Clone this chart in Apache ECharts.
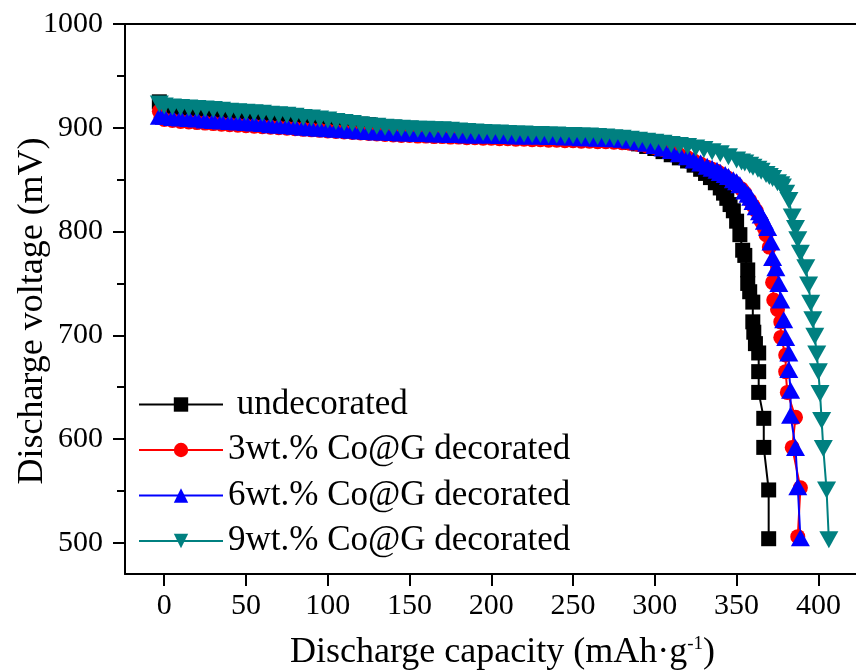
<!DOCTYPE html>
<html>
<head>
<meta charset="utf-8">
<script src="https://cdn.jsdelivr.net/npm/echarts@6/dist/echarts.min.js"></script>
<style>
  html, body { margin: 0; padding: 0; background: #fff; }
  #chart { width: 856px; height: 671px; }
</style>
</head>
<body>
<div id="chart"></div>
<script>
// 数据：放电容量 (mAh/g) 与电压 (mV)
const undecoratedCap = [-3, 0, 5, 10, 15, 20, 25, 30, 35, 40, 45, 50, 55, 60, 65, 70, 75, 80, 85, 90, 95, 100, 105, 110, 115, 120, 125, 130, 135, 140, 145, 150, 155, 160, 165, 170, 175, 180, 185, 190, 195, 200, 205, 210, 215, 220, 225, 230, 235, 240, 245, 250, 255, 260, 265, 270, 275, 280, 285, 290, 295, 300, 305, 310, 315, 320, 324, 328, 331, 334, 337, 340, 342, 344, 346, 348, 350, 352, 353.7, 355, 356.8, 356.8, 358, 359.9, 359.9, 360.5, 361.5, 363.5, 363.5, 363.5, 366.6, 366.6, 369.6, 369.6];
const undecoratedV = [925, 921, 919, 918, 917.5, 917, 916.5, 916, 915.5, 915, 914.5, 914, 913.5, 913, 912.5, 912, 911, 910.5, 910, 909, 908, 907, 906, 905, 904, 903.5, 903, 902, 901, 900.5, 900, 899.5, 899, 898.5, 898, 897, 896.5, 896, 895.5, 895.5, 895, 895, 894.5, 894.5, 894, 894, 893.5, 893.5, 893, 893, 892.5, 892, 891.5, 891, 890, 889.5, 888.5, 887.5, 886, 884.5, 882, 880, 877, 874, 871, 868, 864, 860, 856, 852, 847, 842, 837, 832, 826, 820, 810, 797, 782, 777, 763, 750, 742, 732, 713, 703, 692, 683, 665, 645, 620, 592, 551, 504];

const co3Cap = [-3, -2, 0, 5, 10, 15, 20, 25, 30, 35, 40, 45, 50, 55, 60, 65, 70, 75, 80, 85, 90, 95, 100, 105, 110, 115, 120, 125, 130, 135, 140, 145, 150, 155, 160, 165, 170, 175, 180, 185, 190, 195, 200, 205, 210, 215, 220, 225, 230, 235, 240, 245, 250, 255, 260, 265, 270, 275, 280, 285, 290, 295, 300, 305, 310, 315, 320, 324, 328, 332, 335, 338, 340, 343, 345, 348, 350, 353, 355, 358, 360, 362, 365, 367, 368, 370, 372, 372.7, 375, 377, 377, 380, 380, 381, 386, 384, 389, 387.4];
const co3V = [916, 910, 908, 907, 906, 905.5, 905, 904.5, 904, 903.5, 903, 902.5, 902, 901.5, 901, 900.5, 900, 899.5, 899, 898.5, 898, 897.5, 897, 896.5, 896, 895.5, 895, 894.5, 894, 893.5, 893, 892.5, 892.5, 892, 892, 891.5, 891.5, 891, 891, 890.5, 890.5, 890, 890, 889.5, 889.5, 889, 889, 888.5, 888.5, 888, 888, 887.5, 887.5, 887, 887, 886.5, 886.5, 886, 885.5, 885, 884, 882.5, 881, 879, 877, 874, 871, 868, 865, 862, 860, 858, 856, 853, 851, 848, 845, 841, 837, 830, 825, 820, 810, 803, 797, 785, 751, 734, 725, 713, 698, 681, 665, 645, 621, 592, 553, 506];

const co6Cap = [-3, 0, 5, 10, 15, 20, 25, 30, 35, 40, 45, 50, 55, 60, 65, 70, 75, 80, 85, 90, 95, 100, 105, 110, 115, 120, 125, 130, 135, 140, 145, 150, 155, 160, 165, 170, 175, 180, 185, 190, 195, 200, 205, 210, 215, 220, 225, 230, 235, 240, 245, 250, 255, 260, 265, 270, 275, 280, 285, 290, 295, 300, 305, 310, 315, 320, 324, 328, 332, 335, 338, 340, 343, 345, 348, 350, 352, 355, 357, 358.6, 360, 362, 364, 365, 367, 369, 371, 372, 374, 375.8, 377, 378.8, 380, 381.9, 381.9, 383, 383, 386, 387.4, 389];
const co6V = [911, 911, 910, 909.5, 909, 908.5, 907.5, 907, 906.5, 906, 905.5, 905, 904.5, 904, 903, 902.5, 902, 901.5, 900.5, 900, 899.5, 899, 898.5, 898, 897.5, 897, 896.5, 896, 896, 895.5, 895, 895, 894.5, 894.5, 894, 894, 893.5, 893.5, 893, 893, 893, 893, 892.5, 892.5, 892, 892, 892, 892, 891.5, 891.5, 891, 891, 890.5, 890.5, 890, 890, 889.5, 889, 888, 886.5, 885, 883, 880.5, 878, 875, 872, 869, 866, 863, 861, 859, 857, 855, 853, 850, 848, 845, 839, 836, 833, 829, 824, 819, 816, 810, 804, 790, 775, 765, 750, 734, 715, 698, 683, 667, 647, 623, 592, 554, 505];

const co9Cap = [-3, 0, 5, 10, 15, 20, 25, 30, 35, 40, 45, 50, 55, 60, 65, 70, 75, 80, 85, 90, 95, 100, 105, 110, 115, 120, 125, 130, 135, 140, 145, 150, 155, 160, 165, 170, 175, 180, 185, 190, 195, 200, 205, 210, 215, 220, 225, 230, 235, 240, 245, 250, 255, 260, 265, 270, 275, 280, 285, 290, 295, 300, 305, 310, 315, 320, 325, 330, 335, 340, 345, 350, 353, 355, 358, 360, 363, 365, 368, 370, 372, 375, 377, 378, 380, 382, 384, 386, 387.4, 389, 392.3, 394, 395.3, 396.6, 397.8, 399, 400, 401, 402, 403, 405, 406.4];
const co9V = [923, 921, 920, 919.5, 919, 918.5, 918, 917.5, 917, 916, 915.5, 915, 914.5, 914, 913, 912.5, 912, 911, 910, 909.5, 908.5, 907.5, 906, 905, 904, 903, 902, 901.5, 900.5, 900, 899.5, 899, 898.5, 898.5, 898, 898, 897.5, 897, 896.5, 896, 895.5, 895, 895, 894.5, 894, 894, 893.5, 893.5, 893, 893, 892.5, 892.5, 892, 892, 891.5, 891, 890.5, 890, 889, 888, 887, 886, 885, 884, 883, 882, 880.5, 879, 877, 875, 872, 869, 867, 866, 864, 862, 860, 858, 855, 853, 851, 847, 845, 843, 837, 830, 814, 803, 792, 779, 765, 748.5, 731, 715, 699, 682, 665, 644, 618, 591, 551, 503];

const xTicks = [0, 50, 100, 150, 200, 250, 300, 350, 400];
const yTicks = [500, 600, 700, 800, 900, 1000];
const yMinorTicks = [550, 650, 750, 850, 950];

function pairs(xs, ys) {
    return xs.map((x, i) => [x, ys[i]]);
}

const FONT = 'Liberation Serif, "Times New Roman", serif';

const myChart = echarts.init(document.getElementById('chart'), null, { renderer: 'canvas' });

const axisLineStyle = { color: '#000', width: 2 };

const option = {
    animation: false,
    backgroundColor: '#fff',
    grid: {
        left: 125,
        right: 0,
        top: 24,
        bottom: 97,
        containLabel: false,
        outerBoundsMode: 'none'
    },
    legend: {
        orient: 'vertical',
        left: 133,
        top: 382,
        itemWidth: 84,
        itemHeight: 18,
        itemGap: 10.5,
        textStyle: {
            fontFamily: FONT,
            fontSize: 35,
            color: '#000'
        },
        formatter: function (name) {
            return name === 'undecorated' ? ' undecorated' : name;
        },
        data: ['undecorated', '3wt.% Co@G decorated', '6wt.% Co@G decorated', '9wt.% Co@G decorated']
    },
    xAxis: [
        {
            type: 'value',
            min: -24,
            max: 423,
            name: 'Discharge capacity (mAh·g{sup|-1})',
            nameLocation: 'middle',
            nameGap: 61,
            nameMoveOverlap: false,
            nameTextStyle: {
                fontFamily: FONT,
                fontSize: 36,
                color: '#000',
                padding: [0, 0, 0, 24],
                rich: {
                    sup: {
                        fontFamily: FONT,
                        fontSize: 19,
                        color: '#000',
                        verticalAlign: 'top',
                        padding: [0, 0, 16, 0]
                    }
                }
            },
            axisLine: { show: true, onZero: false, lineStyle: axisLineStyle },
            axisTick: {
                show: true,
                inside: false,
                length: 12,
                customValues: xTicks,
                lineStyle: { color: '#000', width: 2 }
            },
            axisLabel: {
                customValues: xTicks,
                margin: 17,
                fontFamily: FONT,
                fontSize: 30,
                color: '#000'
            },
            splitLine: { show: false }
        },
        {
            type: 'value',
            position: 'top',
            min: -24,
            max: 423,
            axisLine: { show: true, onZero: false, lineStyle: axisLineStyle },
            axisTick: { show: false },
            axisLabel: { show: false },
            splitLine: { show: false }
        }
    ],
    yAxis: [
        {
            type: 'value',
            min: 470,
            max: 1000,
            name: 'Discharge voltage (mV)',
            nameLocation: 'middle',
            nameGap: 74,
            nameMoveOverlap: false,
            nameTextStyle: {
                fontFamily: FONT,
                fontSize: 36,
                color: '#000',
                padding: [0, 24, 0, 0]
            },
            axisLine: { show: true, onZero: false, lineStyle: axisLineStyle },
            axisTick: {
                show: true,
                inside: false,
                length: 12,
                customValues: yTicks,
                lineStyle: { color: '#000', width: 2 }
            },
            axisLabel: {
                customValues: yTicks,
                margin: 22,
                fontFamily: FONT,
                fontSize: 30,
                color: '#000',
                formatter: function (v) { return String(v); }
            },
            splitLine: { show: false }
        },
        {
            type: 'value',
            position: 'left',
            min: 470,
            max: 1000,
            axisLine: { show: false, onZero: false },
            axisTick: {
                show: true,
                inside: false,
                length: 8,
                customValues: yMinorTicks,
                lineStyle: { color: '#000', width: 2 }
            },
            axisLabel: { show: false },
            splitLine: { show: false }
        }
    ],
    series: [
        {
            name: 'undecorated',
            type: 'line',
            data: pairs(undecoratedCap, undecoratedV),
            symbol: 'rect',
            symbolSize: 15,
            showAllSymbol: true,
            lineStyle: { color: '#000', width: 2 },
            itemStyle: { color: '#000' }
        },
        {
            name: '3wt.% Co@G decorated',
            type: 'line',
            data: pairs(co3Cap, co3V),
            symbol: 'circle',
            symbolSize: 15,
            showAllSymbol: true,
            lineStyle: { color: '#ff0000', width: 2 },
            itemStyle: { color: '#ff0000' }
        },
        {
            name: '6wt.% Co@G decorated',
            type: 'line',
            data: pairs(co6Cap, co6V),
            symbol: 'triangle',
            symbolSize: [19, 17],
            showAllSymbol: true,
            lineStyle: { color: '#0000ff', width: 2 },
            itemStyle: { color: '#0000ff' }
        },
        {
            name: '9wt.% Co@G decorated',
            type: 'line',
            data: pairs(co9Cap, co9V),
            symbol: 'triangle',
            symbolRotate: 180,
            symbolSize: [19, 17],
            showAllSymbol: true,
            lineStyle: { color: '#008080', width: 2 },
            itemStyle: { color: '#008080' }
        }
    ]
};

// 渲染
myChart.setOption(option);
</script>
</body>
</html>
